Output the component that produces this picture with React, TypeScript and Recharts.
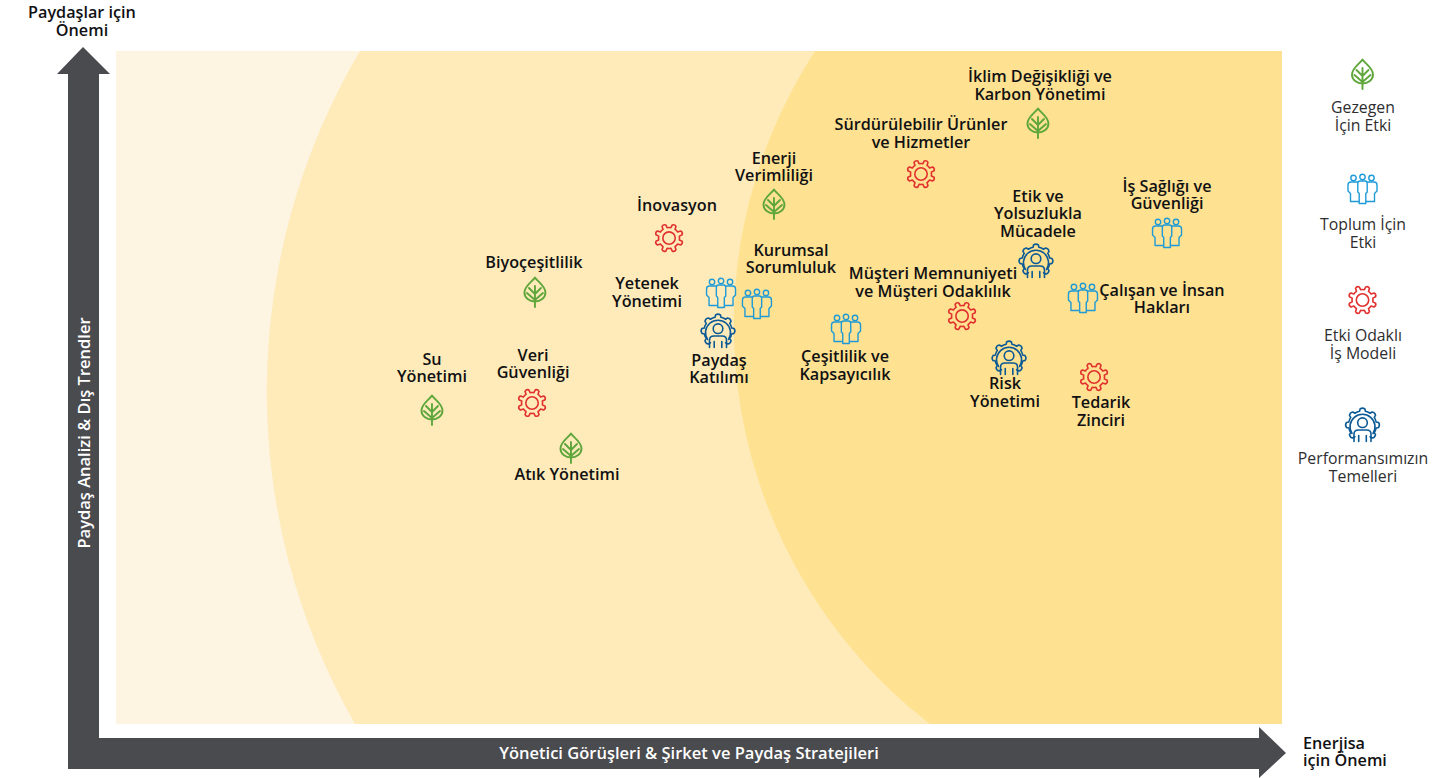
import React from "react";
import { ScatterChart, Scatter, XAxis, YAxis, ReferenceArea, Legend, Customized } from "recharts";

// ---- data (importance scores, 0-100 on both axes)
const planetNames = ["İklim Değişikliği ve\nKarbon Yönetimi", "Enerji\nVerimliliği", "Biyoçeşitlilik", "Su\nYönetimi", "Atık Yönetimi"];
const planetX = [79.07, 56.43, 35.93, 27.1, 39.02];
const planetY = [89.3, 77.27, 64.19, 46.66, 41.01];

const societyNames = ["İş Sağlığı ve\nGüvenliği", "Yetenek\nYönetimi", "Kurumsal\nSorumluluk", "Çeşitlilik ve\nKapsayıcılık", "Çalışan ve İnsan\nHakları"];
const societyX = [90.14, 51.89, 54.97, 62.61, 82.93];
const societyY = [72.96, 64.04, 62.41, 58.69, 63.3];

const businessNames = ["Sürdürülebilir Ürünler\nve Hizmetler", "İnovasyon", "Müşteri Memnuniyeti\nve Müşteri Odaklılık", "Veri\nGüvenliği", "Tedarik\nZinciri"];
const businessX = [69.04, 47.43, 72.56, 35.68, 83.88];
const businessY = [81.72, 72.21, 60.62, 47.7, 51.56];

const foundationNames = ["Etik ve\nYolsuzlukla\nMücadele", "Paydaş\nKatılımı", "Risk\nYönetimi"];
const foundationX = [78.9, 51.63, 76.59];
const foundationY = [68.8, 58.4, 54.38];

const legendLabels = ["Gezegen\nİçin Etki", "Toplum İçin\nEtki", "Etki Odaklı\nİş Modeli", "Performansımızın\nTemelleri"];
const yAxisTitle = "Paydaş Analizi & Dış Trendler";
const xAxisTitle = "Yönetici Görüşleri & Şirket ve Paydaş Stratejileri";
const yEndTitle = ["Paydaşlar için", "Önemi"];
const xEndTitle = ["Enerjisa", "için Önemi"];

const toRows = (names: string[], xs: number[], ys: number[]) =>
  names.map((name, i) => ({ name, x: xs[i], y: ys[i] }));

// ---- styles
const FONT = "'Open Sans', sans-serif";
const INK = "#111113";
const DARK = "#4a4b4f";
const GREEN = "#5ea63b";
const BLUE = "#1e9bd7";
const RED = "#e1312e";
const NAVY = "#0b5a96";
const LINE = 17.5;

// label placement relative to each marker: [dx, dy of the first baseline]
const labelOffsets: Record<string, [number, number]> = {
  "İklim Değişikliği ve\nKarbon Yönetimi": [2, -41],
  "Enerji\nVerimliliği": [0, -40],
  "Biyoçeşitlilik": [-1, -24],
  "Su\nYönetimi": [0, -45],
  "Atık Yönetimi": [-4, 32],
  "İş Sağlığı ve\nGüvenliği": [0, -41],
  "Yetenek\nYönetimi": [-74, -4],
  "Kurumsal\nSorumluluk": [34, -48],
  "Çeşitlilik ve\nKapsayıcılık": [-1, 33],
  "Çalışan ve İnsan\nHakları": [79, -2],
  "Sürdürülebilir Ürünler\nve Hizmetler": [0, -44],
  "İnovasyon": [8, -27],
  "Müşteri Memnuniyeti\nve Müşteri Odaklılık": [-29, -37],
  "Veri\nGüvenliği": [1, -42],
  "Tedarik\nZinciri": [7, 31],
  "Etik ve\nYolsuzlukla\nMücadele": [2, -59],
  "Paydaş\nKatılımı": [1, 35],
  "Risk\nYönetimi": [-4, 31],
};

// ---- icons, drawn around (0,0)
const gearPath = (outer: number, root: number, teeth: number, from = 0, to = 360) => {
  const step = 360 / teeth;
  const pt = (r: number, a: number) => {
    const t = (a * Math.PI) / 180;
    return `${(r * Math.cos(t)).toFixed(2)},${(r * Math.sin(t)).toFixed(2)}`;
  };
  const closed = to - from >= 360;
  let d = "";
  for (let i = 0; from + i * step < to - 0.01; i++) {
    const a = from + i * step;
    d += `${i === 0 ? "M" : "L"}${pt(root, a - step * 0.27)} `;
    d += `L${pt(outer - 1, a - step * 0.19)} Q${pt(outer + 0.6, a)} ${pt(outer - 1, a + step * 0.19)} L${pt(root, a + step * 0.27)} `;
    if (closed || from + (i + 1) * step < to - 0.01) {
      d += `A${root},${root} 0 0 1 ${pt(root, a + step * 0.73)} `;
    }
  }
  return d + (closed ? "Z" : "");
};

const Leaf = () => (
  <g fill="none" stroke={GREEN} strokeWidth={1.9} strokeLinejoin="round" strokeLinecap="round">
    <path d="M0,-14.5 C3,-10 10.5,-6 10.5,0.5 C10.5,6 5.5,9.5 0,9.5 C-5.5,9.5 -10.5,6 -10.5,0.5 C-10.5,-6 -3,-10 0,-14.5 Z" />
    <path d="M0,-6 V15 M-6,-4 L0,2 L6,-4 M-8,1 L0,8 L8,1" />
  </g>
);

const People = () => (
  <g fill="none" stroke={BLUE} strokeWidth={1.4} strokeLinejoin="round">
    <circle cx={-9} cy={-11} r={2.7} />
    <circle cx={0} cy={-12} r={2.7} />
    <circle cx={9} cy={-11} r={2.7} />
    <path d="M-4.7,-5.5 Q-4.7,-8 -2.5,-8 H2.5 Q4.7,-8 4.7,-5.5 V3 L3.3,4.5 V14.5 H-3.3 V4.5 L-4.7,3 Z" />
    <path d="M-4.7,-7 H-11.5 Q-14.5,-7 -14.5,-4 V2 L-12,4.5 V12.5 H-3.3" />
    <path d="M4.7,-7 H11.5 Q14.5,-7 14.5,-4 V2 L12,4.5 V12.5 H3.3" />
  </g>
);

const Gear = () => (
  <g fill="none" stroke={RED} strokeWidth={1.6} strokeLinejoin="round">
    <path d={gearPath(14.5, 10.5, 8, 22.5, 382.5)} />
    <circle r={6.2} />
  </g>
);

const Foundation = () => (
  <g fill="none" stroke={NAVY} strokeWidth={1.6} strokeLinejoin="round" strokeLinecap="round">
    <path d={gearPath(17.2, 14, 8, 135, 450)} />
    <path d="M-10.5,8.5 A12.5,12.5 0 1 1 10.5,8.5" />
    <circle cx={0} cy={-2.3} r={4.8} />
    <path d="M-8.5,16.5 V9 Q-8.5,5 -4,5 H4 Q8.5,5 8.5,9 V16.5 M-3.8,10.5 V16.5 M3.8,10.5 V16.5" />
  </g>
);

const MultiLine = ({ text, x, y, ...rest }: any) => (
  <text x={x} y={y} textAnchor="middle" fontFamily={FONT} {...rest}>
    {String(text)
      .split("\n")
      .map((line: string, i: number) => (
        <tspan key={i} x={x} dy={i === 0 ? 0 : LINE}>
          {line}
        </tspan>
      ))}
  </text>
);

const marker = (Icon: React.FC) => (props: any) => {
  const { cx, cy, payload } = props;
  const [dx, dy] = labelOffsets[payload.name] ?? [0, -30];
  return (
    <g>
      <g transform={`translate(${cx},${cy})`}>
        <Icon />
      </g>
      <MultiLine text={payload.name} x={cx + dx} y={cy + dy} fontSize={16.2} fontWeight={600} fill={INK} />
    </g>
  );
};

// ---- background zones
const Zone = ({ x, y, width, height, fill, top, bottom, radius }: any) => (
  <path
    d={`M${x + top},${y} A${radius},${radius} 0 0 0 ${x + bottom},${y + height} L${x + width},${y + height} L${x + width},${y} Z`}
    fill={fill}
  />
);

// ---- axis arrows and titles
const AxisArrows = () => (
  <g>
    <path d="M68,769 V74 H57 L83,47 L110,74 H99 V738 H1259 V727 L1286,753 L1259,778 V769 Z" fill={DARK} />
    <text
      transform="translate(89.5,433) rotate(-90)"
      textAnchor="middle"
      fontFamily={FONT}
      fontSize={16.5}
      fontWeight={600}
      fill="#fff"
    >
      {yAxisTitle}
    </text>
    <text x={689} y={759} textAnchor="middle" fontFamily={FONT} fontSize={16.5} fontWeight={600} fill="#fff">
      {xAxisTitle}
    </text>
    <MultiLine text={yEndTitle.join("\n")} x={82} y={18} fontSize={16.2} fontWeight={600} fill={INK} />
    <text x={1303} y={749} fontFamily={FONT} fontSize={16.2} fontWeight={600} fill={INK}>
      <tspan x={1303}>{xEndTitle[0]}</tspan>
      <tspan x={1303} dy={17}>
        {xEndTitle[1]}
      </tspan>
    </text>
  </g>
);

const legendIcons = [Leaf, People, Gear, Foundation];
const legendIconY = [74, 189, 300, 425];
const legendTextY = [113, 230, 341, 464];

const KeyPanel = () => (
  <svg width={156} height={500} style={{ display: "block" }}>
    {legendLabels.map((label, i) => {
      const Icon = legendIcons[i];
      return (
        <g key={label}>
          <g transform={`translate(80.5,${legendIconY[i]})`}>
            <Icon />
          </g>
          <MultiLine text={label} x={81} y={legendTextY[i]} fontSize={15.8} fill="#2e2e30" />
        </g>
      );
    })}
  </svg>
);

export default function App() {
  return (
    <div style={{ position: "absolute", left: 0, top: 0, width: 1438, height: 778 }}>
      <ScatterChart width={1438} height={778} margin={{ top: 51, right: 0, bottom: 54, left: 116 }}>
        <XAxis type="number" dataKey="x" domain={[0, 100]} hide />
        <YAxis type="number" dataKey="y" domain={[0, 100]} hide />
        <ReferenceArea x1={0} x2={100} y1={0} y2={100} fill="#fdf4e1" fillOpacity={1} stroke="none" />
        <ReferenceArea
          x1={0}
          x2={100}
          y1={0}
          y2={100}
          shape={(p: any) => <Zone {...p} fill="#feebb9" top={244} bottom={239} radius={670} />}
        />
        <ReferenceArea
          x1={0}
          x2={100}
          y1={0}
          y2={100}
          shape={(p: any) => <Zone {...p} fill="#fee191" top={699} bottom={814} radius={503.5} />}
        />
        <Customized component={AxisArrows} />
        <Legend
          layout="vertical"
          align="right"
          verticalAlign="top"
          content={KeyPanel}
          wrapperStyle={{ width: 156, top: 0, right: 0 }}
        />
        <Scatter name="Gezegen İçin Etki" data={toRows(planetNames, planetX, planetY)} shape={marker(Leaf)} isAnimationActive={false} />
        <Scatter name="Toplum İçin Etki" data={toRows(societyNames, societyX, societyY)} shape={marker(People)} isAnimationActive={false} />
        <Scatter name="Etki Odaklı İş Modeli" data={toRows(businessNames, businessX, businessY)} shape={marker(Gear)} isAnimationActive={false} />
        <Scatter name="Performansımızın Temelleri" data={toRows(foundationNames, foundationX, foundationY)} shape={marker(Foundation)} isAnimationActive={false} />
      </ScatterChart>
    </div>
  );
}
